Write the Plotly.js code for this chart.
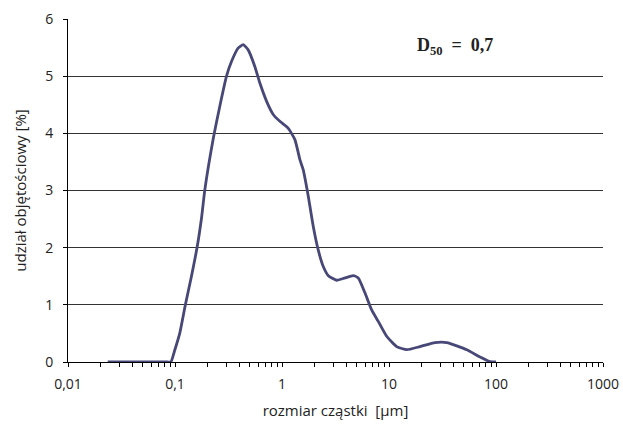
<!DOCTYPE html>
<html>
<head>
<meta charset="utf-8">
<script src="https://cdn.plot.ly/plotly-3.0.1.min.js"></script>
<style>
  html, body { margin: 0; padding: 0; background: #fff; }
  #chart { width: 623px; height: 426px; }
</style>
</head>
<body>
<div id="chart"></div>
<script>
// Particle size distribution (volume fraction vs. particle size, log scale)
const particleSize = [0.0235, 0.05, 0.085, 0.0914, 0.0996, 0.111, 0.125, 0.1425, 0.161, 0.177, 0.190, 0.227,
  0.262, 0.303, 0.338, 0.389, 0.434, 0.483, 0.557, 0.621, 0.718, 0.828, 0.955, 1.14, 1.32,
  1.47, 1.58, 1.76, 1.96, 2.18, 2.43, 2.71, 3.24, 3.88, 4.63, 5.16, 5.96, 6.88, 7.94, 9.51,
  11.8, 14.7, 19.5, 26.9, 34.7, 53.3, 71, 88, 100];
const volumeShare = [0, 0, 0, 0, 0.21, 0.51, 1.0, 1.5, 2.01, 2.52, 3.01, 3.89,
  4.47, 5.0, 5.26, 5.49, 5.55, 5.46, 5.17, 4.88, 4.56, 4.33, 4.21, 4.09, 3.89,
  3.54, 3.36, 2.90, 2.37, 1.96, 1.67, 1.51, 1.43, 1.47, 1.51, 1.47, 1.21, 0.91, 0.71, 0.45,
  0.27, 0.215, 0.27, 0.34, 0.34, 0.215, 0.087, 0.005, 0];

// Decade labels plus unlabeled minor ticks
const decadeValues = [0.01, 0.1, 1, 10, 100, 1000];
const decadeLabels = ['0,01', '0,1', '1', '10', '100', '1000'];
const minorSteps = [2, 3, 4, 5, 6, 7, 8, 9];

const xTickVals = [];
const xTickText = [];
decadeValues.forEach((d, i) => {
  xTickVals.push(d);
  xTickText.push(decadeLabels[i]);
  if (i < decadeValues.length - 1) {
    minorSteps.forEach(m => { xTickVals.push(d * m); xTickText.push(''); });
  }
});

const yTickVals = [0, 1, 2, 3, 4, 5, 6];

const medianLabel = 'D<sub>50</sub>  =  0,7';

const sansFamily = 'Open Sans, DejaVu Sans, sans-serif';
const tickFont = { family: sansFamily, size: 14, color: '#222' };
const titleFont = { family: sansFamily, size: 15, color: '#222' };

const trace = {
  x: particleSize,
  y: volumeShare,
  type: 'scatter',
  mode: 'lines',
  line: { color: '#474778', width: 2.8, shape: 'spline', smoothing: 0.5 },
  hoverinfo: 'skip'
};

const layout = {
  width: 623,
  height: 426,
  margin: { l: 68, r: 20, t: 19, b: 64 },
  paper_bgcolor: '#fff',
  plot_bgcolor: '#fff',
  showlegend: false,
  xaxis: {
    type: 'log',
    range: [-2, 3],
    tickmode: 'array',
    tickvals: xTickVals,
    ticktext: xTickText,
    ticks: 'outside',
    ticklen: 4,
    tickcolor: '#000',
    tickwidth: 1,
    ticklabelstandoff: 5,
    showline: true,
    linecolor: '#000',
    linewidth: 1,
    showgrid: false,
    zeroline: false,
    tickfont: tickFont,
    title: { text: 'rozmiar cząstki  [µm]', font: titleFont, standoff: 13 }
  },
  yaxis: {
    range: [0, 6],
    tickmode: 'array',
    tickvals: yTickVals,
    ticks: 'outside',
    ticklen: 4,
    tickcolor: '#000',
    ticklabelstandoff: 7,
    showline: true,
    linecolor: '#000',
    linewidth: 1,
    showgrid: true,
    gridcolor: '#333',
    gridwidth: 1,
    zeroline: false,
    tickfont: tickFont,
    title: { text: 'udział objętościowy [%]', font: titleFont, standoff: 14 }
  },
  annotations: [{
    text: medianLabel,
    xref: 'paper', yref: 'paper',
    x: 0.723, y: 0.92,
    xanchor: 'center', yanchor: 'middle',
    showarrow: false,
    font: { family: 'Liberation Serif, serif', size: 18, color: '#222', weight: 'bold' }
  }]
};

Plotly.newPlot('chart', [trace], layout, { staticPlot: true, displayModeBar: false });
</script>
</body>
</html>
